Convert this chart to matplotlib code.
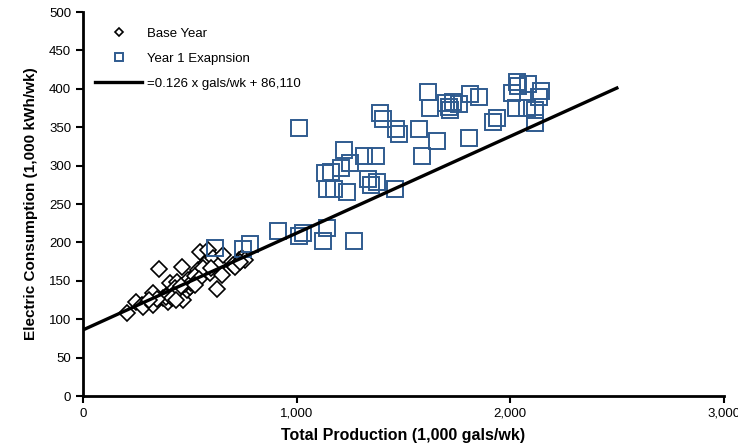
import numpy as np
import matplotlib
matplotlib.use('Agg')
import matplotlib.pyplot as plt

plt.rcParams['font.family'] = ['Liberation Sans', 'DejaVu Sans']

# Base year: weekly production (1,000 gals) vs electric use (1,000 kWh)
base_x = [204, 246, 274, 279, 326, 330, 354, 373, 396, 401, 405, 420, 438, 452, 462,
          466, 485, 499, 513, 532, 537, 546, 555, 574, 584, 593, 607, 626, 635, 649,
          654, 720, 729, 743, 757, 429, 443, 476, 490, 504, 523, 560, 387, 415, 434,
          457, 541, 701, 710, 734, 598, 523, 345, 307]
base_y = [108, 122, 118, 116, 118, 134, 165, 128, 122, 134, 147, 134, 148, 131, 168,
          125, 138, 142, 155, 160, 164, 187, 161, 173, 190, 160, 180, 139, 171, 158,
          184, 173, 177, 180, 177, 141, 138, 146, 151, 147, 156, 167, 129, 128, 125,
          143, 152, 171, 168, 174, 167, 145, 126, 125]

# Year 1 expansion
exp_x = [616, 748, 780, 912, 1010, 1010, 1029, 1122, 1141, 1268, 1132, 1160, 1141, 1174,
         1235, 1207, 1221, 1249, 1315, 1371, 1334, 1348, 1376, 1460, 1390, 1404, 1465,
         1479, 1573, 1587, 1615, 1624, 1657, 1699, 1713, 1718, 1732, 1760, 1812, 1854,
         1807, 1920, 1938, 2009, 2032, 2037, 2084, 2145, 2135, 2027, 2079, 2116, 2116]
exp_y = [193, 191, 198, 215, 349, 208, 212, 202, 219, 202, 290, 292, 270, 270,
         266, 297, 320, 303, 313, 313, 283, 275, 279, 270, 368, 361, 348,
         341, 348, 313, 396, 375, 332, 382, 376, 372, 383, 380, 393, 389,
         336, 357, 362, 395, 409, 404, 406, 397, 389, 375, 375, 372, 355]

# linear fit: kWh = 0.126 x gals + 86.11
slope = 0.126
intercept = 86.11
fit_x = np.array([0, 2500])
fit_y = slope * fit_x + intercept

fig = plt.figure(figsize=(7.38, 4.48), dpi=100)
ax = fig.add_axes([0.1125, 0.116, 0.868, 0.857])

ax.plot(base_x, base_y, 'D', ms=8, mfc='white', mec='black', mew=1.2,
        linestyle='none', label='Base Year')
ax.plot(exp_x, exp_y, 's', ms=11, mfc='none', mec='#2f5b8f', mew=1.4,
        linestyle='none', label='Year 1 Exapnsion')
ax.plot(fit_x, fit_y, color='black', lw=2.4, label='=0.126 x gals/wk + 86,110')

ax.set_xlim(0, 3000)
ax.set_ylim(0, 500)
ax.set_xticks([0, 1000, 2000, 3000])
ax.set_xticklabels(['0', '1,000', '2,000', '3,000'])
ax.set_yticks(range(0, 501, 50))

for side in ['top', 'right']:
    ax.spines[side].set_visible(False)
for side in ['left', 'bottom']:
    ax.spines[side].set_linewidth(2)
ax.tick_params(direction='out', length=5, width=1.5, labelsize=9.5)

ax.set_xlabel('Total Production (1,000 gals/wk)', fontsize=11.5, fontweight='bold', labelpad=6)
ax.set_ylabel('Electric Consumption (1,000 kWh/wk)', fontsize=11, fontweight='bold', labelpad=8)

ax.legend(loc='upper left', bbox_to_anchor=(0.0, 0.99), frameon=False,
          fontsize=9.5, markerscale=0.55, handlelength=3.6, handletextpad=0.35,
          labelspacing=0.95)

fig.savefig('out.png', dpi=100)
